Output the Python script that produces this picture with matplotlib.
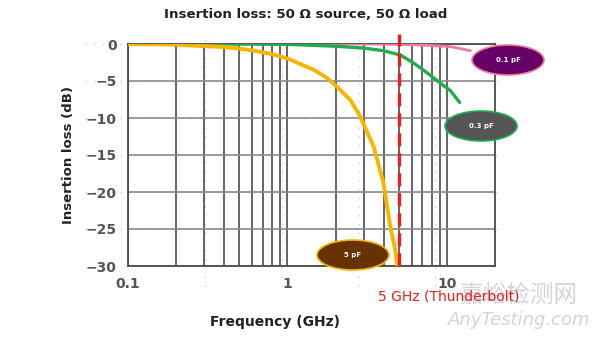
import matplotlib
matplotlib.use('Agg')
import matplotlib.pyplot as plt
from matplotlib.patches import Ellipse
from matplotlib.ticker import FixedLocator, NullFormatter

# ── Data ──────────────────────────────────────────────────────────────────────
freq_5pf = [0.1, 0.2, 0.283, 0.396, 0.505, 0.612, 0.742, 0.90, 1.04, 1.20, 1.46,
            1.77, 2.04, 2.48, 2.86, 3.15, 3.47, 4.0, 4.41, 4.74, 4.87]
loss_5pf = [0.0, -0.08, -0.27, -0.4, -0.63, -0.9, -1.22, -1.67, -2.1, -2.7, -3.47,
            -4.6, -5.77, -7.57, -9.82, -11.85, -13.88, -18.8, -24.7, -27.8, -30.0]

freq_03pf = [0.1, 0.5, 1.0, 2.0, 3.0, 4.0, 5.1, 6.0, 7.1, 9.1, 10.5, 12.0]
loss_03pf = [0.0, 0.0, -0.05, -0.3, -0.55, -0.9, -1.5, -2.4, -3.5, -5.3,
             -6.3, -7.9]

freq_01pf = [0.1, 3.0, 5.0, 7.8, 10.5, 12.0, 14.0]
loss_01pf = [0.0, 0.0, -0.05, -0.2, -0.35, -0.6, -0.9]

thunderbolt_ghz = 5
y_ticks = [0, -5, -10, -15, -20, -25, -30]
x_ticks = [0.1, 1, 10]
x_tick_labels = ['0.1', '1', '10']

# Colours
C_5PF = '#f7b500'
C_03PF = '#1fae4f'
C_01PF = '#f27a9b'
C_RED = '#ee1c1c'
C_GRID = '#4a4a4a'
C_TEXT = '#555555'

W, H = 600, 338
fig = plt.figure(figsize=(W / 100, H / 100), dpi=100, facecolor='white')
ax = fig.add_axes([128 / W, (H - 266) / H, (495 - 128) / W, (266 - 44) / H])

ax.set_xscale('log')
ax.set_xlim(0.1, 20)
ax.set_ylim(-30, 0)

# faint dotted grid of the original chart (half-decade, slightly offset)
for xv in [0.304, 0.93, 2.8, 8.4]:
    ax.axvline(xv, ymin=-0.09, ymax=1.04, color='#c8c8c8', lw=0.9,
               ls=(0, (1, 6)), clip_on=False, zorder=0)
for yv in y_ticks[:-1]:
    ax.plot([0.1 * 10 ** (-43 / 159.3), 20 * 10 ** (10 / 159.3)], [yv, yv],
            color='#c8c8c8', lw=0.9, ls=(0, (1, 6)), clip_on=False, zorder=0)

# log grid
ax.xaxis.set_minor_locator(FixedLocator([m * d for d in (0.1, 1, 10)
                                          for m in range(2, 10) if m * d < 20]))
ax.xaxis.set_minor_formatter(NullFormatter())
ax.grid(True, which='both', axis='x', color=C_GRID, lw=1.2, zorder=1)
ax.grid(True, which='major', axis='y', color='#8a8a8a', lw=1.2, zorder=1)
for s in ax.spines.values():
    s.set_color(C_GRID)
    s.set_linewidth(1.3)

ax.set_xticks(x_ticks)
ax.set_xticklabels(x_tick_labels)
ax.set_yticks(y_ticks)
ax.tick_params(which='both', length=0, labelsize=10, colors=C_TEXT, pad=8)
for lbl in ax.get_xticklabels() + ax.get_yticklabels():
    lbl.set_fontweight('bold')

# curves
ax.plot(freq_01pf, loss_01pf, color=C_01PF, lw=2.0, zorder=3, solid_capstyle='round')
ax.plot(freq_03pf, loss_03pf, color=C_03PF, lw=2.4, zorder=4, solid_capstyle='round')
ax.plot(freq_5pf, loss_5pf, color=C_5PF, lw=2.8, zorder=5, solid_capstyle='round',
        solid_joinstyle='round')

# 5 GHz marker
ax.axvline(thunderbolt_ghz, ymin=0, ymax=1.045, color=C_RED, lw=2.4,
           ls=(0, (4, 2)), clip_on=False, zorder=6)

ax.set_xlabel('Frequency (GHz)', fontsize=10, fontweight='bold', color='#222222')
ax.xaxis.set_label_coords((275 - 128) / 367, -(315 - 266) / 222)
ax.set_ylabel('Insertion loss (dB)', fontsize=9.5, fontweight='bold', color='#222222')
ax.yaxis.set_label_coords((75 - 128) / 367, 0.5)

fig.text(306 / W, 1 - 15 / H, 'Insertion loss: 50 Ω source, 50 Ω load',
         ha='center', va='center', fontsize=9.6, fontweight='bold', color='#222222')

# capacitor labels (ellipses)
labels = [
    ('0.1 pF', 508, 60, '#660066', C_01PF),
    ('0.3 pF', 481, 126, '#555555', C_03PF),
    ('5 pF', 353, 255, '#663300', C_5PF),
]
for txt, px, py, face, edge in labels:
    e = Ellipse((px / W, 1 - py / H), 72 / W, 30 / H, transform=fig.transFigure,
                facecolor=face, edgecolor=edge, lw=1.2, zorder=10)
    fig.add_artist(e)
    fig.text(px / W, 1 - py / H, txt, ha='center', va='center', fontsize=5,
             fontweight='bold', color='white', zorder=11)

# watermark (behind the red annotation)
fig.text(518 / W, 1 - 296 / H, '嘉峪检测网', ha='center', va='center', fontsize=17,
         color='#d4d4d4', family=['Noto Sans CJK SC', 'DejaVu Sans'], zorder=12)
fig.text(519 / W, 1 - 320 / H, 'AnyTesting.com', ha='center', va='center', fontsize=13,
         color='#d4d4d4', style='italic', zorder=12)

fig.text(378 / W, 1 - 297 / H, f'{thunderbolt_ghz} GHz (Thunderbolt)',
         ha='left', va='center', fontsize=10, color=C_RED, zorder=13)

fig.savefig('out.png', dpi=100, facecolor='white')
